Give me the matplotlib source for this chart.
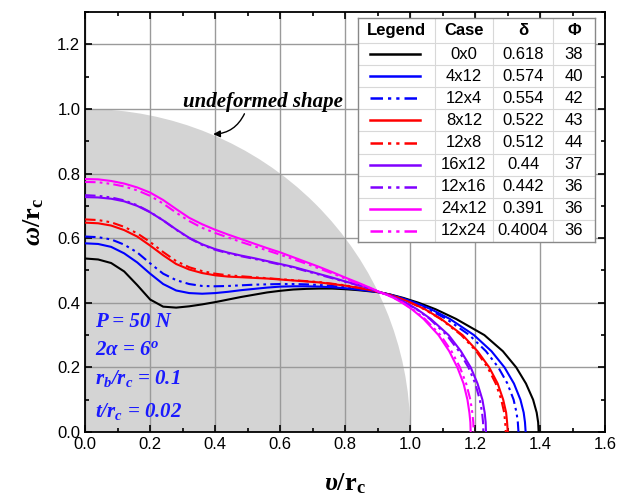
import matplotlib
matplotlib.use("Agg")
import matplotlib.pyplot as plt
from matplotlib.patches import Wedge
from matplotlib.ticker import MultipleLocator

plt.rcParams['font.family'] = ['Liberation Sans', 'DejaVu Sans']
plt.rcParams['mathtext.fontset'] = 'custom'
plt.rcParams['mathtext.rm'] = 'Liberation Serif:bold'
plt.rcParams['mathtext.bf'] = 'Liberation Serif:bold'
plt.rcParams['mathtext.it'] = 'Liberation Serif:bold:italic'

# upper branch: profile from the axis to the common crossing point
x_top = [0.0, 0.04, 0.08, 0.12, 0.16, 0.20, 0.24, 0.28, 0.32, 0.36, 0.40, 0.44,
         0.48, 0.52, 0.56, 0.60, 0.64, 0.68, 0.72, 0.76, 0.80, 0.84, 0.88, 0.908]
# lower branch: profile from the crossing point down to the base
y_side = [0.432, 0.425, 0.415, 0.40, 0.38, 0.35, 0.30, 0.25, 0.20, 0.15, 0.10, 0.06, 0.03, 0.0]

cases = ["0x0", "4x12", "12x4", "8x12", "12x8", "16x12", "12x16", "24x12", "12x24"]
delta = ["0.618", "0.574", "0.554", "0.522", "0.512", "0.44", "0.442", "0.391", "0.4004"]
phi = ["38", "40", "42", "43", "44", "37", "36", "36", "36"]

top_0x0 = [0.537, 0.534, 0.523, 0.497, 0.455, 0.410, 0.388, 0.385, 0.389, 0.395, 0.402, 0.410,
           0.418, 0.425, 0.432, 0.437, 0.441, 0.443, 0.444, 0.444, 0.442, 0.439, 0.435, 0.432]
top_4x12 = [0.584, 0.582, 0.573, 0.553, 0.525, 0.490, 0.458, 0.438, 0.430, 0.428, 0.430, 0.434,
            0.439, 0.443, 0.447, 0.450, 0.451, 0.451, 0.450, 0.448, 0.445, 0.441, 0.436, 0.432]
top_12x4 = [0.605, 0.603, 0.596, 0.580, 0.556, 0.522, 0.490, 0.470, 0.458, 0.452, 0.451, 0.452,
            0.454, 0.456, 0.457, 0.458, 0.458, 0.457, 0.455, 0.452, 0.448, 0.443, 0.437, 0.432]
top_8x12 = [0.648, 0.646, 0.639, 0.625, 0.605, 0.577, 0.547, 0.520, 0.503, 0.492, 0.485, 0.481,
            0.479, 0.477, 0.475, 0.472, 0.469, 0.466, 0.463, 0.458, 0.453, 0.446, 0.439, 0.432]
top_12x8 = [0.658, 0.656, 0.649, 0.635, 0.615, 0.588, 0.557, 0.529, 0.510, 0.498, 0.490, 0.485,
            0.482, 0.479, 0.476, 0.473, 0.470, 0.467, 0.464, 0.459, 0.454, 0.447, 0.439, 0.432]
top_16x12 = [0.727, 0.726, 0.722, 0.714, 0.700, 0.680, 0.655, 0.627, 0.601, 0.581, 0.566, 0.555,
             0.546, 0.538, 0.529, 0.520, 0.511, 0.500, 0.489, 0.478, 0.466, 0.455, 0.443, 0.432]
top_12x16 = [0.733, 0.731, 0.726, 0.717, 0.702, 0.681, 0.655, 0.626, 0.600, 0.579, 0.564, 0.553,
             0.544, 0.536, 0.527, 0.518, 0.509, 0.498, 0.487, 0.476, 0.465, 0.454, 0.442, 0.432]
top_24x12 = [0.783, 0.782, 0.777, 0.769, 0.757, 0.741, 0.718, 0.690, 0.663, 0.643, 0.626, 0.611,
             0.597, 0.583, 0.569, 0.556, 0.541, 0.526, 0.511, 0.495, 0.478, 0.462, 0.445, 0.432]
top_12x24 = [0.774, 0.773, 0.768, 0.760, 0.748, 0.731, 0.707, 0.679, 0.653, 0.632, 0.616, 0.602,
             0.588, 0.575, 0.562, 0.549, 0.535, 0.521, 0.506, 0.491, 0.475, 0.459, 0.444, 0.432]

side_0x0 = [0.908, 0.941, 0.979, 1.026, 1.078, 1.141, 1.228, 1.285, 1.326, 1.356, 1.378, 1.389, 1.3935, 1.395]
side_4x12 = [0.908, 0.938, 0.973, 1.016, 1.064, 1.122, 1.196, 1.250, 1.290, 1.319, 1.339, 1.349, 1.353, 1.355]
side_12x4 = [0.908, 0.937, 0.970, 1.011, 1.056, 1.111, 1.182, 1.233, 1.271, 1.299, 1.318, 1.327, 1.331, 1.333]
side_8x12 = [0.908, 0.935, 0.965, 1.003, 1.045, 1.095, 1.161, 1.207, 1.243, 1.269, 1.286, 1.295, 1.298, 1.300]
side_12x8 = [0.908, 0.934, 0.964, 1.001, 1.043, 1.093, 1.157, 1.203, 1.238, 1.263, 1.280, 1.289, 1.292, 1.294]
side_16x12 = [0.908, 0.930, 0.955, 0.987, 1.021, 1.063, 1.118, 1.156, 1.186, 1.207, 1.222, 1.229, 1.232, 1.233]
side_12x16 = [0.908, 0.930, 0.954, 0.985, 1.019, 1.060, 1.112, 1.150, 1.179, 1.200, 1.214, 1.221, 1.224, 1.225]
side_24x12 = [0.908, 0.927, 0.949, 0.975, 1.005, 1.041, 1.087, 1.120, 1.145, 1.164, 1.176, 1.182, 1.185, 1.186]
side_12x24 = [0.908, 0.928, 0.950, 0.977, 1.008, 1.045, 1.093, 1.127, 1.153, 1.172, 1.185, 1.191, 1.194, 1.195]

tops = [top_0x0, top_4x12, top_12x4, top_8x12, top_12x8, top_16x12, top_12x16, top_24x12, top_12x24]
sides = [side_0x0, side_4x12, side_12x4, side_8x12, side_12x8, side_16x12, side_12x16, side_24x12, side_12x24]

dashdotdot = (0, (5, 2, 1.3, 2, 1.3, 2))
colors = ["#000000", "#0000ff", "#0000ff", "#ff0000", "#ff0000", "#8000ff", "#8000ff", "#ff00ff", "#ff00ff"]
styles = ["-", "-", dashdotdot, "-", dashdotdot, "-", dashdotdot, "-", dashdotdot]

fig = plt.figure(figsize=(6.17, 5.0), dpi=100)
ax = fig.add_axes([0.138, 0.136, 0.843, 0.840])

# undeformed quarter section
ax.add_patch(Wedge((0, 0), 1.0, 0, 90, facecolor="#d4d4d4", edgecolor="none", zorder=1))

for top, side, c, ls in zip(tops, sides, colors, styles):
    ax.plot(x_top + side[1:], top + y_side[1:], color=c, linestyle=ls, lw=1.5, zorder=3)

ax.set_xlim(0, 1.6)
ax.set_ylim(0, 1.3)
ax.xaxis.set_major_locator(MultipleLocator(0.2))
ax.xaxis.set_minor_locator(MultipleLocator(0.1))
ax.yaxis.set_major_locator(MultipleLocator(0.2))
ax.yaxis.set_minor_locator(MultipleLocator(0.1))
ax.grid(True, which="major", color="#9a9a9a", lw=1.0, zorder=1.5)
ax.tick_params(which="both", direction="in", top=True, right=True, labelsize=12, width=1.2)
ax.tick_params(which="major", length=5)
ax.tick_params(which="minor", length=3)
for s in ax.spines.values():
    s.set_linewidth(1.3)

ax.set_xlabel(r"$\mathit{\upsilon}/\mathrm{r_c}$", fontsize=19, labelpad=14)
ax.set_ylabel(r"$\mathit{\omega}/\mathrm{r_c}$", fontsize=19, labelpad=8)

serif_bi = dict(family="Liberation Serif", fontweight="bold", fontstyle="italic")
ax.text(0.30, 1.006, "undeformed shape", fontsize=15, ha="left", va="baseline", **serif_bi)
ax.annotate("", xy=(0.394, 0.922), xytext=(0.49, 0.985),
            arrowprops=dict(arrowstyle="-|>", color="black", lw=1.0, mutation_scale=10,
                            connectionstyle="arc3,rad=-0.3", shrinkA=0, shrinkB=0))

blue_txt = dict(color="#1a1aff", fontsize=15, ha="left", va="center", **serif_bi)
ax.text(0.03, 0.34, "P = 50 N", **blue_txt)
ax.text(0.03, 0.255, r"2$\alpha$ = 6$^o$", **blue_txt)
ax.text(0.03, 0.165, r"r$_b$/r$_c$ = 0.1", **blue_txt)
ax.text(0.03, 0.062, r"t/r$_c$ = 0.02", **blue_txt)

# legend table
tab = fig.add_axes([358 / 617, 1 - 242 / 500, 237 / 617, 224 / 500])
tab.set_xlim(0, 237)
tab.set_ylim(224, 0)
tab.set_xticks([])
tab.set_yticks([])
tab.set_facecolor("white")
for s in tab.spines.values():
    s.set_color("#888888")
    s.set_linewidth(1.0)
col_x = [0, 77, 135, 195, 237]
row_h = (224 - 25) / 9
for cx in col_x[1:-1]:
    tab.axvline(cx, color="#d8d8d8", lw=0.8)
tab.axhline(25, color="#d8d8d8", lw=0.8)
for i in range(1, 9):
    tab.axhline(25 + i * row_h, color="#d8d8d8", lw=0.8)
heads = ["Legend", "Case", "\u03b4", "\u03a6"]
for j, h in enumerate(heads):
    tab.text((col_x[j] + col_x[j + 1]) / 2, 12.5, h, ha="center", va="center",
             fontsize=12, fontweight="bold")
for i in range(9):
    yc = 25 + (i + 0.5) * row_h
    tab.plot([12, 62], [yc, yc], color=colors[i], linestyle=styles[i], lw=1.8)
    tab.text((col_x[1] + col_x[2]) / 2, yc, cases[i], ha="center", va="center", fontsize=12)
    tab.text((col_x[2] + col_x[3]) / 2, yc, delta[i], ha="center", va="center", fontsize=12)
    tab.text((col_x[3] + col_x[4]) / 2, yc, phi[i], ha="center", va="center", fontsize=12)

fig.savefig("out.png", dpi=100)
